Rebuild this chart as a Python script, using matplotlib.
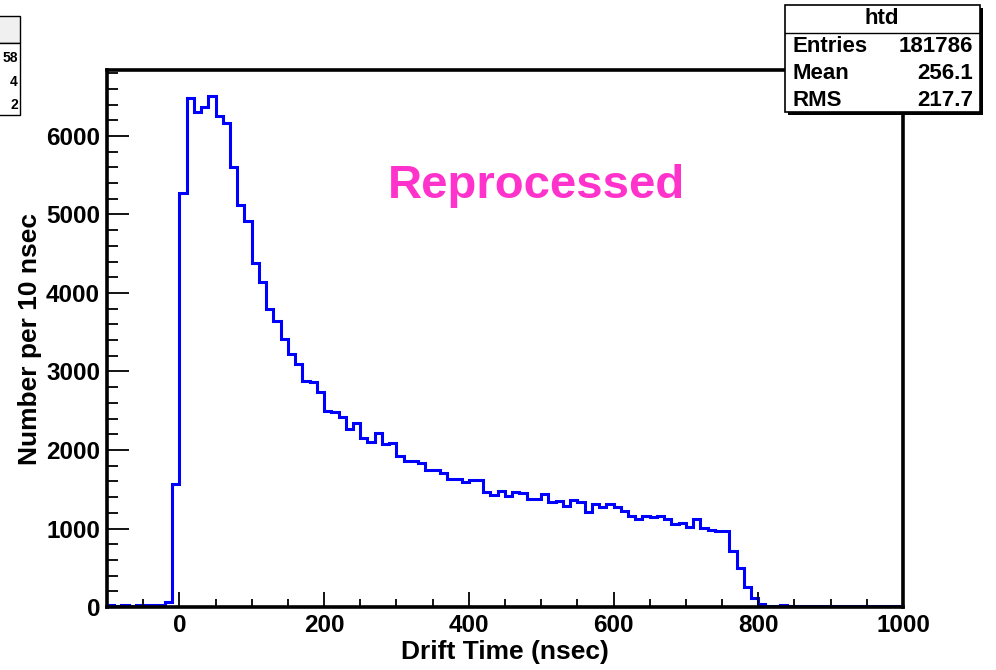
import numpy as np
import matplotlib.pyplot as plt
from matplotlib.patches import Rectangle
from matplotlib.ticker import MultipleLocator

plt.rcParams["font.family"] = ["Liberation Sans", "DejaVu Sans"]
plt.rcParams["font.weight"] = "bold"

# drift time histogram, 10 nsec bins from -100 to 1000
bin_lo = -100
bin_hi = 1000
bin_w = 10
counts = [
    20, 18, 22, 19, 21, 20, 23, 25, 60, 1570,          # -100 .. 0
    5270, 6480, 6310, 6370, 6510, 6260, 6160, 5600, 5120, 4920,   # 0 .. 100
    4380, 4145, 3790, 3640, 3410, 3220, 3100, 2880, 2865, 2740,   # 100 .. 200
    2500, 2480, 2416, 2265, 2340, 2157, 2106, 2213, 2076, 2089,   # 200 .. 300
    1924, 1856, 1856, 1834, 1745, 1745, 1703, 1634, 1634, 1592,   # 300 .. 400
    1618, 1618, 1461, 1427, 1484, 1414, 1467, 1448, 1380, 1376,   # 400 .. 500
    1435, 1341, 1354, 1290, 1359, 1341, 1214, 1308, 1270, 1308,   # 500 .. 600
    1270, 1227, 1163, 1121, 1159, 1142, 1159, 1121, 1053, 1070,   # 600 .. 700
    1015, 1125, 1011, 981, 968, 968, 713, 493, 255, 110,          # 700 .. 800
    34, 18, 16, 20, 17, 15, 19, 16, 18, 17,                       # 800 .. 900
    16, 18, 15, 17, 19, 16, 18, 15, 17, 16,                       # 900 .. 1000
]
edges = np.arange(bin_lo, bin_hi + bin_w, bin_w)

hist_name = "htd"
stat_labels = ["Entries", "Mean", "RMS"]
stat_values = ["181786", "256.1", "217.7"]
# what is visible of the neighbouring pad's stats box
side_values = ["58", "4", "2"]

fig = plt.figure(figsize=(9.96, 6.70), dpi=100)
ax = fig.add_axes([0.1074, 0.094, 0.7992, 0.8015])

ax.stairs(counts, edges, baseline=None, color="#0000ff", linewidth=2.2)

ax.set_xlim(bin_lo, bin_hi)
ax.set_ylim(0, 6840)
ax.set_xticks(np.arange(0, 1001, 200))
ax.set_yticks(np.arange(0, 6001, 1000))
ax.xaxis.set_minor_locator(MultipleLocator(50))
ax.yaxis.set_minor_locator(MultipleLocator(200))
ax.tick_params(axis="both", which="both", direction="in", top=False, right=False,
               labelsize=17.5, width=1.3)
ax.tick_params(axis="y", which="major", length=16, pad=5)
ax.tick_params(axis="y", which="minor", length=8)
ax.tick_params(axis="x", which="major", length=11, pad=5)
ax.tick_params(axis="x", which="minor", length=6)
for lab in ax.get_xticklabels() + ax.get_yticklabels():
    lab.set_fontweight("bold")
for sp in ax.spines.values():
    sp.set_linewidth(2.6)

ax.set_xlabel("Drift Time (nsec)", fontsize=19, fontweight="bold", va="center")
ax.xaxis.set_label_coords(0.5, -0.084)
ax.set_ylabel("Number per 10 nsec", fontsize=19, fontweight="bold", va="center")
ax.yaxis.set_label_coords(-0.097, 0.5)

fig.text(0.539, 0.722, "Reprocessed", color="#ff33cc", fontsize=34,
         fontweight="bold", ha="center", va="center")

# stats box (top right)
W, H = 996.0, 670.0
def fx(px):
    return px / W
def fy(py):
    return 1 - py / H

bx0, bx1, by0, by1 = 785, 980, 5, 112
fig.add_artist(Rectangle((fx(bx0 + 3), fy(by1 + 3)), fx(bx1 - bx0), fy(by0) - fy(by1),
                         transform=fig.transFigure, facecolor="#000000",
                         edgecolor="none", zorder=5))
fig.add_artist(Rectangle((fx(bx0), fy(by1)), fx(bx1 - bx0), fy(by0) - fy(by1),
                         transform=fig.transFigure, facecolor="white",
                         edgecolor="black", linewidth=1.2, zorder=6))
fig.add_artist(plt.Line2D([fx(bx0), fx(bx1)], [fy(33), fy(33)],
                          transform=fig.transFigure, color="black", linewidth=1.0, zorder=7))
fig.text(fx(882), fy(19), hist_name, fontsize=16, fontweight="bold",
         ha="center", va="center", zorder=8)
for i, (lab, val) in enumerate(zip(stat_labels, stat_values)):
    y = fy(47 + i * 26.5)
    fig.text(fx(792), y, lab, fontsize=16, fontweight="bold", ha="left", va="center", zorder=8)
    fig.text(fx(973), y, val, fontsize=16, fontweight="bold", ha="right", va="center", zorder=8)

# cut-off stats box of the neighbouring pad (left edge)
sx1 = 20
fig.add_artist(Rectangle((fx(-60), fy(43)), fx(60 + sx1), fy(16) - fy(43),
                         transform=fig.transFigure, facecolor="#f0f0f0",
                         edgecolor="black", linewidth=1.0, zorder=6))
fig.add_artist(Rectangle((fx(-60), fy(115)), fx(60 + sx1), fy(43) - fy(115),
                         transform=fig.transFigure, facecolor="white",
                         edgecolor="black", linewidth=1.0, zorder=6))
for txt, py in zip(side_values, [58, 82, 105]):
    fig.text(fx(sx1 - 2), fy(py), txt, fontsize=10, fontweight="bold",
             ha="right", va="center", zorder=8)

fig.savefig("out.png", dpi=100)
